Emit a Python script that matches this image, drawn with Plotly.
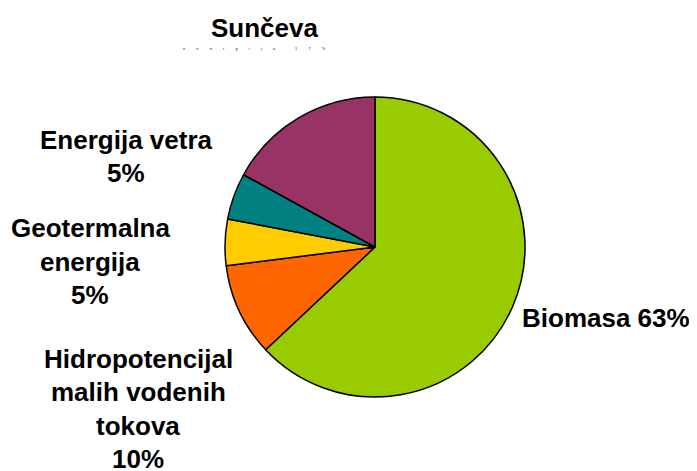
import plotly.graph_objects as go

W, H = 697, 471

# ---- data ----
labels = ["Biomasa", "Hidropotencijal malih vodenih tokova", "Geotermalna energija",
          "Energija vetra", "Sunčeva energija"]
values = [63, 10, 5, 5, 17]
colors = ["#99CC00", "#FF6600", "#FFCC00", "#008080", "#993366"]

# label lines per slice (text only)
label_lines = {
    "Biomasa": [f"Biomasa {values[0]}%"],
    "Hidro": ["Hidropotencijal", "malih vodenih", "tokova", f"{values[1]}%"],
    "Geo": ["Geotermalna", "energija", f"{values[2]}%"],
    "Vetar": ["Energija vetra", f"{values[3]}%"],
    "Sun": ["Sunčeva"],
}
tiny_text = "energija 17%"

# ---- layout helpers (page body has an 8px margin) ----
OFF = 8

def px(x):
    return (x - OFF) / W

def py(y):
    return 1 - (y - OFF) / H

cx, cy, r = 375, 247, 150

fig = go.Figure(go.Pie(
    labels=labels, values=values, sort=False, direction="clockwise", rotation=0,
    marker=dict(colors=colors, line=dict(color="black", width=1.5)),
    textinfo="none", hoverinfo="label+percent", showlegend=False,
    domain=dict(x=[px(cx - r), px(cx + r)], y=[py(cy + r), py(cy - r)]),
))

font = dict(family="Liberation Sans, Arial, sans-serif", size=26, color="black", weight="bold")
annotations = []

def add_lines(lines, x, y0, step=34):
    for i, t in enumerate(lines):
        annotations.append(dict(text=t, x=px(x), y=py(y0 + i * step), xref="paper", yref="paper",
                                xanchor="center", yanchor="middle", showarrow=False, font=font))

add_lines(label_lines["Biomasa"], 606, 318)
add_lines(label_lines["Hidro"], 138, 359, 33.4)
add_lines(label_lines["Geo"], 90, 228, 33.5)
add_lines(label_lines["Vetar"], 126, 140, 33)
add_lines(label_lines["Sun"], 264, 28)

# tiny spaced text under "Sunčeva"
gap = "\u00a0" * 10
words = tiny_text.split(" ")
tiny = ("\u00a0" * 18).join(gap.join(list(w)) for w in words)
annotations.append(dict(text=tiny, x=px(254), y=py(49), xref="paper", yref="paper",
                        xanchor="center", yanchor="middle", showarrow=False,
                        font=dict(family="Liberation Sans, Arial, sans-serif", size=4, color="#222222")))

fig.update_layout(width=W, height=H, margin=dict(l=0, r=0, t=0, b=0),
                  paper_bgcolor="white", plot_bgcolor="white", annotations=annotations)

fig.write_html("out.html")
